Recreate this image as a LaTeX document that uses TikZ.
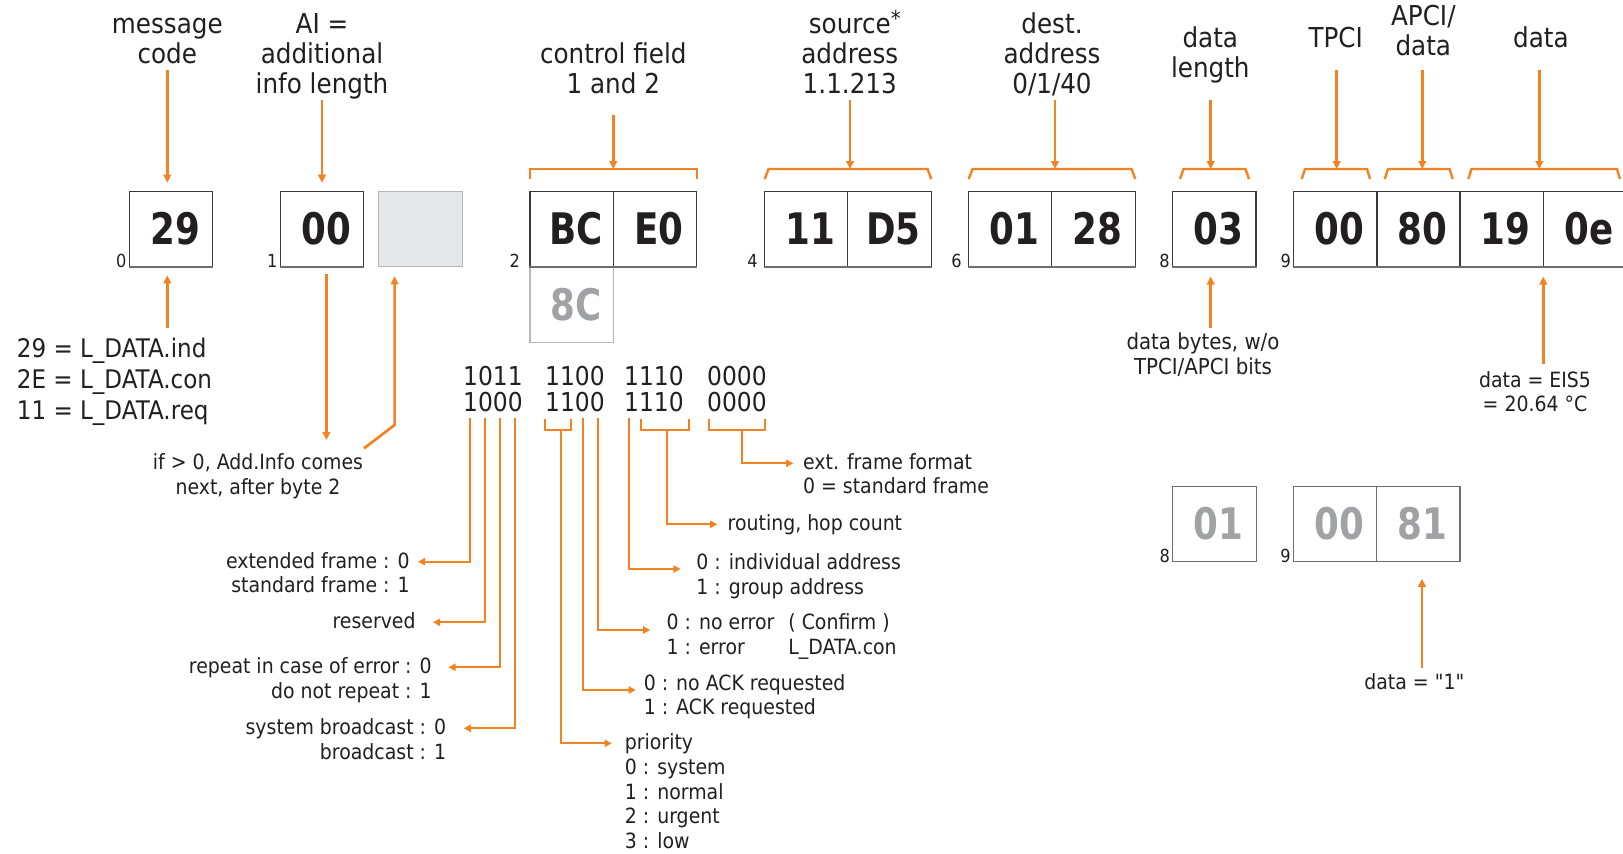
\documentclass[tikz,border=0pt]{standalone}
\usepackage{fontspec}
\setmainfont{DejaVu Sans}[FakeStretch=0.9]
\newfontfamily\numfont{DejaVu Sans}[FakeStretch=0.82]
\newfontfamily\qfont{DejaVu Sans}[FakeStretch=0.9, Ligatures=TeXOff]
\usetikzlibrary{arrows.meta}
\definecolor{kor}{HTML}{F58220}
\definecolor{ink}{HTML}{231F20}
\definecolor{boxline}{HTML}{3A3A3C}
\definecolor{boxbot}{HTML}{6D6E71}
\definecolor{ghost}{HTML}{A0A2A5}
\definecolor{ghostline}{HTML}{B4B6B8}
\definecolor{fillgray}{HTML}{E6E7E8}
\begin{document}
\begin{tikzpicture}[x=0.5pt,y=-0.5pt,
  bytebox/.style={draw=boxline, line width=0.6pt, minimum width=41.65pt, minimum height=37.7pt,
    inner sep=0pt, text height=15.85pt, text depth=0pt,
    font=\numfont\bfseries\fontsize{21.75}{22}\selectfont, text=ink},
  ghostbox/.style={bytebox, draw=ghostline, text=ghost},
  lowbox/.style={bytebox, draw=boxbot, text=ghost},
  idx/.style={anchor=base east, inner sep=0pt, font=\fontsize{9}{10}\selectfont, text=ink},
  hdr/.style={anchor=base, align=center, inner sep=0pt, font=\fontsize{13.7}{15}\selectfont, text=ink},
  lbl/.style={inner sep=0pt, font=\fontsize{10.5}{12.4}\selectfont, text=ink},
  bits/.style={anchor=base, align=center, inner sep=0pt, font=\fontsize{13}{13}\selectfont, text=ink},
  arr/.style={draw=kor, line width=1.35pt, -{Triangle[length=4pt,width=3.8pt]}},
  barr/.style={draw=kor, line width=1.1pt, -{Triangle[length=3.6pt,width=3.6pt]}},
  bln/.style={draw=kor, line width=1.1pt},
  brk/.style={draw=kor, line width=1.2pt, line join=miter},
  botedge/.style={draw=boxbot, line width=1pt}
]
\useasboundingbox (0,0) rectangle (1623,853);
\clip (0,0) rectangle (1623,853);

% ---------- byte boxes (top row) ----------
\node[bytebox] (b0) at (171,229) {\hspace*{4pt}29};
\node[bytebox] (b1) at (322.2,229) {\hspace*{4pt}00};
\node[bytebox, draw=ghostline, fill=fillgray] (b1g) at (420.5,229) {};
\node[ghostbox] (b2x) at (571.7,304.5) {\hspace*{4pt}8C};
\node[bytebox] (b2) at (571.7,229) {\hspace*{4pt}BC};
\node[bytebox] (b3) at (655,229) {\hspace*{4pt}E0};
\node[bytebox] (b4) at (806.2,229) {\hspace*{4pt}11};
\node[bytebox] (b5) at (889.5,229) {\hspace*{4pt}D5};
\node[bytebox] (b6) at (1010.2,229) {\hspace*{4pt}01};
\node[bytebox] (b7) at (1093.5,229) {\hspace*{4pt}28};
\node[bytebox] (b8) at (1214.4,229) {\hspace*{4pt}03};
\node[bytebox] (b9) at (1335.5,229) {\hspace*{4pt}00};
\node[bytebox] (b10) at (1418.5,229) {\hspace*{4pt}80};
\node[bytebox] (b11) at (1501.7,229) {\hspace*{4pt}19};
\node[bytebox] (b12) at (1585,229) {\hspace*{4pt}0e};
\foreach \b in {b0,b1,b2,b3,b4,b5,b6,b7,b8,b9,b10,b11,b12}
  \draw[botedge] (\b.south west) -- (\b.south east);

% lower row (alternative values)
\node[lowbox] (c8) at (1214.5,523.9) {\hspace*{4pt}01};
\node[lowbox] (c9) at (1335.2,523.9) {\hspace*{4pt}00};
\node[lowbox] (c10) at (1418.4,523.9) {\hspace*{4pt}81};

% ---------- index labels ----------
\node[idx] (i0) at ([xshift=-1pt]b0.south west) {0};
\node[idx] (i1) at ([xshift=-1pt]b1.south west) {1};
\node[idx] (i2) at ([xshift=-4.5pt]b2.south west) {2};
\node[idx] (i4) at ([xshift=-3pt]b4.south west) {4};
\node[idx] (i6) at ([xshift=-3pt]b6.south west) {6};
\node[idx] (i8) at ([xshift=-1pt]b8.south west) {8};
\node[idx] (i9) at ([xshift=-1pt]b9.south west) {9};
\node[idx] (j8) at ([xshift=-1pt]c8.south west) {8};
\node[idx] (j9) at ([xshift=-1pt]c9.south west) {9};

% ---------- headers (anchor = baseline of last line) ----------
\node[hdr] (h0) at (167.3,63.3) {message\\code};
\node[hdr] (h1) at (322,93.3) {AI =\\additional\\info length};
\node[hdr] (h2) at (613.3,93.3) {control field\\1 and 2};
\node[hdr] (h4) at (849.8,93.8) {source\rlap{\raisebox{0.5ex}{\fontsize{11}{11}\selectfont *}}\\address\\1.1.213};
\node[hdr] (h6) at (1052,93.3) {dest.\\address\\0/1/40};
\node[hdr] (h8) at (1210.3,77.7) {data\\length};
\node[hdr] (h9) at (1335.7,47.7) {TPCI};
\node[hdr] (h10) at (1423.3,55) {APCI/\\data};
\node[hdr] (h11) at (1540.9,47.7) {data};

% ---------- brackets ----------
\draw[brk] (530,179) -- (530,169) -- (696.7,169) -- (696.7,179);
\draw[brk] (764.7,179) -- (768.5,169) -- (927.5,169) -- (931.3,179);
\draw[brk] (968.7,179) -- (972.5,169) -- (1131.5,169) -- (1135.3,179);
\draw[brk] (1180,179) -- (1183.5,169) -- (1245.5,169) -- (1249,179);
\draw[brk] (1301.7,179) -- (1305,169) -- (1367,169) -- (1370,179);
\draw[brk] (1384.7,179) -- (1388,169) -- (1449.5,169) -- (1452.7,179);
\draw[brk] (1468.3,179) -- (1471.5,169) -- (1617,169) -- (1620,179);

% ---------- header arrows ----------
\coordinate (s0) at (167.3,70);
\coordinate (s1) at (322,100);
\coordinate (s2) at (613.3,115);
\coordinate (s4) at (850,100);
\coordinate (s6) at (1055,100);
\coordinate (s8) at (1210.7,100);
\coordinate (s9) at (1336.7,70);
\coordinate (s10) at (1422.3,70);
\coordinate (s11) at (1539.3,70);
\draw[arr, shorten >=4pt] (s0) -- (s0 |- b0.north);
\draw[arr, shorten >=4pt] (s1) -- (s1 |- b1.north);
\foreach \s in {s2,s4,s6,s8,s9,s10,s11}
  \draw[arr] (\s) -- (\s |- 0,169);

% ---------- left annotations ----------
\node[anchor=base west, align=left, inner sep=0pt, font=\fontsize{12.8}{15.5}\selectfont, text=ink] (mc)
  at (16.5,419.3) {29 = L\_DATA.ind\\2E = L\_DATA.con\\11 = L\_DATA.req};
\coordinate (u0) at (167.3,328);
\draw[arr, shorten >=4pt] (u0) -- (u0 |- b0.south);

\node[lbl, anchor=base, align=center] (ladd) at (258,494.7) {if > 0, Add.Info comes\\next, after byte 2};
\coordinate (d1s) at (326.4,274);
\coordinate (d1e) at (326.4,440);
\draw[arr] (d1s) -- (d1e);
\coordinate (gbend) at (394.6,425);
\coordinate (gfoot) at (364,448.3);
\draw[arr, shorten >=4.5pt] (gfoot) -- (gbend) -- (gbend |- b1g.south);

% ---------- control field bits ----------
\node[bits] (g1) at (493,411.5) {1011\\1000};
\node[bits] (g2) at (575,411.5) {1100\\1100};
\node[bits] (g3) at (654,411.5) {1110\\1110};
\node[bits] (g4) at (737,411.5) {0000\\0000};

% bit brackets
\draw[bln] (545,419) -- (545,430) -- (570.7,430) -- (570.7,419);
\draw[bln] (641,419) -- (641,430) -- (689.3,430) -- (689.3,419);
\draw[bln] (709,419) -- (709,430) -- (765,430) -- (765,419);

% bit labels (anchor = baseline of last line)
\node[lbl, anchor=base east, align=right] (lext) at (410,592.8) {extended frame : 0\\standard frame : 1};
\node[lbl, anchor=base east] (lres) at (416,628.3) {reserved};
\node[lbl, anchor=base east, align=right] (lrep) at (432,698.3) {repeat in case of error : 0\\do not repeat : 1};
\node[lbl, anchor=base east, align=right] (lsys) at (446.5,759.1) {system broadcast : 0\\broadcast : 1};
\node[lbl, anchor=base west, align=left] (lind) at (696,594.1) {0 : individual address\\1 : group address};
\node[lbl, anchor=base west, align=left] (lerr) at (666.3,654.1) {0 : no error\\1 : error};
\node[lbl, anchor=base west, align=left] (lcon) at (788,654.1) {( Confirm )\\L\_DATA.con};
\node[lbl, anchor=base west, align=left] (lack) at (643.4,714.8) {0 : no ACK requested\\1 : ACK requested};
\node[lbl, anchor=base west, align=left] (lpri) at (624.5,848.7) {priority\\0 : system\\1 : normal\\2 : urgent\\3 : low};
\node[lbl, anchor=base west, align=left] (lfmt) at (802.7,493.8) {ext. frame format\\0 = standard frame};
\node[lbl, anchor=base west] (lhop) at (727.3,530.3) {routing, hop count};

% bit connectors
\draw[barr] (470,418.3) -- (470,561.7) -- ([xshift=4pt]lext.east |- 0,561.7);
\draw[barr] (485,418.3) -- (485,622.3) -- ([xshift=8.5pt]lres.east |- 0,622.3);
\draw[barr] (500,418.3) -- (500,667.3) -- ([xshift=8.2pt]lrep.east |- 0,667.3);
\draw[barr] (515,418.3) -- (515,728.3) -- ([xshift=8.6pt]lsys.east |- 0,728.3);
\draw[barr] (560.7,430) -- (560.7,743.3) -- ([xshift=-6.4pt]lpri.west |- 0,743.3);
\draw[barr] (583.3,418.3) -- (583.3,690) -- ([xshift=-3.8pt]lack.west |- 0,690);
\draw[barr] (598.3,418.3) -- (598.3,630) -- ([xshift=-8pt]lerr.west |- 0,630);
\draw[barr] (628.7,418.3) -- (628.7,569) -- ([xshift=-7.7pt]lind.west |- 0,569);
\draw[barr] (666.7,430) -- (666.7,524.3) -- ([xshift=-5pt]lhop.west |- 0,524.3);
\draw[barr] (741.7,430) -- (741.7,463.3) -- ([xshift=-4.7pt]lfmt.west |- 0,463.3);

% ---------- right annotations ----------
\node[lbl, anchor=base, align=center, font=\fontsize{11}{12.5}\selectfont] (ldb) at (1203,374.5) {data bytes, w/o\\TPCI/APCI bits};
\coordinate (u8) at (1210.7,327.7);
\draw[arr, shorten >=4.6pt] (u8) -- (u8 |- b8.south);

\node[lbl, anchor=base, align=center] (leis) at (1535,411.8) {data = EIS5\\= 20.64 °C};
\coordinate (u12) at (1543.3,364);
\draw[arr, shorten >=4.6pt] (u12) -- (u12 |- b12.south);

\node[lbl, anchor=base, font=\qfont\fontsize{10.5}{12.4}\selectfont] (lone) at (1414.3,689.3) {data = "1"};
\coordinate (u10) at (1422,667.7);
\draw[arr, shorten >=8.3pt] (u10) -- (u10 |- c10.south);
\end{tikzpicture}
\end{document}
